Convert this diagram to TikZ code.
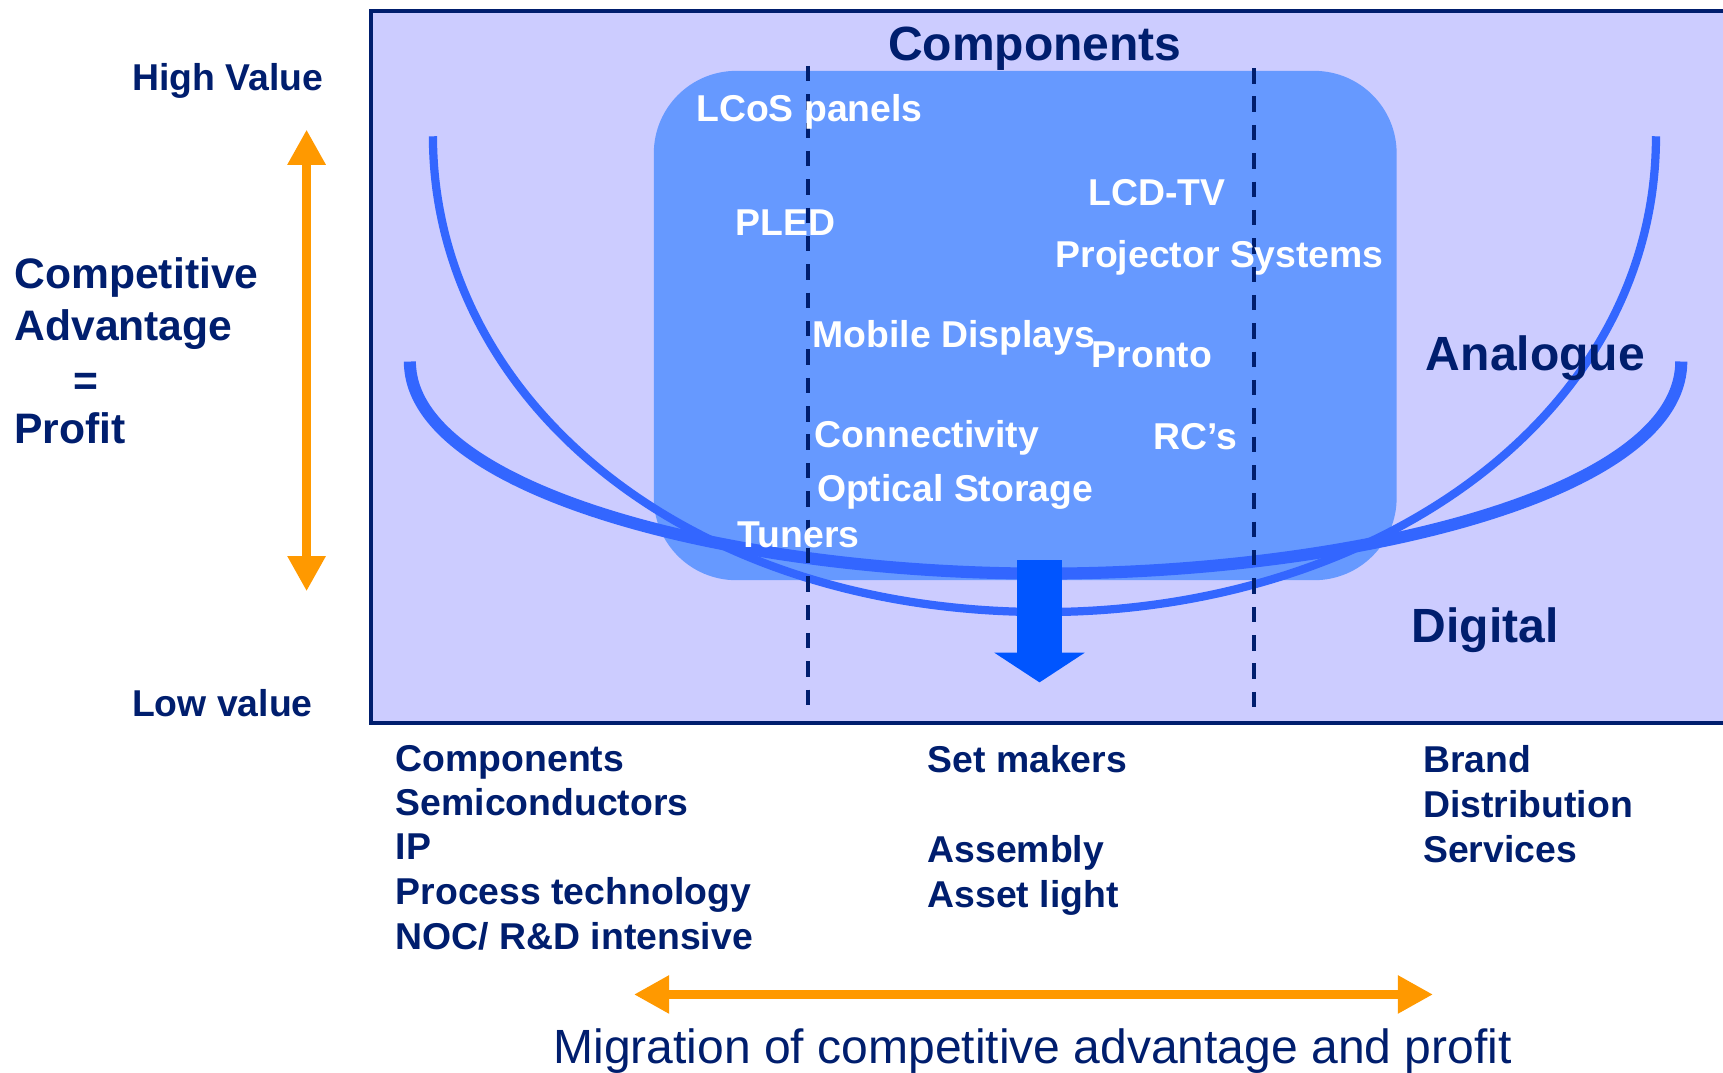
\documentclass[tikz,border=0pt]{standalone}
\usepackage{fontspec}
\setmainfont{Liberation Sans}
\usetikzlibrary{arrows.meta}

\definecolor{navy}{RGB}{0,30,110}
\definecolor{panelfill}{RGB}{204,204,255}
\definecolor{corefill}{RGB}{102,153,255}
\definecolor{curveblue}{RGB}{51,102,255}
\definecolor{dropblue}{RGB}{0,85,255}
\definecolor{migorange}{RGB}{255,153,0}

\tikzset{
  lbl/.style={anchor=base west, inner sep=0pt, text=navy,
              font=\fontsize{34}{40}\selectfont\bfseries},
  biglbl/.style={lbl, font=\fontsize{43.7}{50}\selectfont\bfseries},
  sidelbl/.style={lbl, font=\fontsize{38.8}{46}\selectfont\bfseries},
  wlbl/.style={lbl, text=white},
  divider/.style={navy, line width=3.6pt, dash pattern=on 14pt off 11.8pt},
  analoguecurve/.style={curveblue, line width=7.5pt},
  digitalcurve/.style={curveblue, line width=11pt},
  orangearrow/.style={migorange, line width=7.5pt,
     {Triangle[length=32pt,width=33pt]}-{Triangle[length=32pt,width=33pt]}},
  droparrow/.style={dropblue, line width=41pt,
     -{Triangle[length=27pt,width=81pt]}},
}

\begin{document}
\begin{tikzpicture}[x=1pt,y=-1pt]
\useasboundingbox (0,0) rectangle (1568,976);
\fill[white] (0,0) rectangle (1568,976);

% value chart panel
\fill[panelfill] (337.5,10) rectangle (1570,658);
\draw[navy, line width=3.5pt] (1570,10) -- (337.5,10) -- (337.5,658) -- (1570,658);

% core technology block
\node[fill=corefill, rounded corners=75pt, minimum width=676pt,
      minimum height=463.5pt, inner sep=0pt] (core) at (933,296.25) {};

% smile curves
\coordinate (aL) at (394,124);
\coordinate (aB) at (950,557);
\coordinate (aR) at (1507,124);
\draw[analoguecurve] (aL) .. controls (394,360) and (620,557) .. (aB)
                          .. controls (1250,557) and (1507,380) .. (aR);
\coordinate (dL) at (373,329);
\coordinate (dB) at (950,522);
\coordinate (dR) at (1530,329);
\draw[digitalcurve] (dL) .. controls (373,445) and (660,522) .. (dB)
                         .. controls (1230,522) and (1530,450) .. (dR);

% column dividers
\coordinate (d1t) at (735,60);  \coordinate (d1b) at (735,652);
\coordinate (d2t) at (1141,62); \coordinate (d2b) at (1141,652);
\draw[divider] (d1t) -- (d1b);
\draw[divider] (d2t) -- (d2b);

% downward shift arrow
\coordinate (dropTop) at (946,510);
\coordinate (dropTip) at (946,621);
\draw[droparrow] (dropTop) -- (dropTip);

% value axis
\coordinate (vTop) at (279,118);
\coordinate (vBot) at (279,538);
\draw[orangearrow] (vTop) -- (vBot);

% migration axis
\coordinate (hLeft) at (577,905);
\coordinate (hRight) at (1304,905);
\draw[orangearrow] (hLeft) -- (hRight);

% axis labels
\node[lbl] (high) at (120,82) {High Value};
\node[lbl] (low) at (120,652) {Low value};
\node[sidelbl] (ca1) at (13,263) {Competitive};
\node[sidelbl] (ca2) at (13,310) {Advantage};
\node[sidelbl] (ca3) at (67,360) {=};
\node[sidelbl] (ca4) at (13,404) {Profit};

% panel headings
\node[biglbl] (title) at (808,55) {Components};
\node[biglbl] (analogue) at (1297.5,337) {Analogue};
\node[biglbl] (digital) at (1284.5,585) {Digital};

% products
\node[wlbl] (lcos) at (633.5,111) {LCoS panels};
\node[wlbl] (pled) at (669.5,214) {PLED};
\node[wlbl] (lcdtv) at (990.5,187) {LCD-TV};
\node[wlbl] (proj) at (960.5,243) {Projector Systems};
\node[wlbl] (mobile) at (739.2,316) {Mobile Displays};
\node[wlbl] (pronto) at (993.4,334) {Pronto};
\node[wlbl] (conn) at (741.3,407) {Connectivity};
\node[wlbl] (rcs) at (1049.5,409) {RC’s};
\node[wlbl] (optical) at (743.3,456) {Optical Storage};
\node[wlbl] (tuners) at (671,498) {Tuners};

% chain segments
\node[lbl] (c1a) at (360,702) {Components};
\node[lbl] (c1b) at (360,742) {Semiconductors};
\node[lbl] (c1c) at (360,782) {IP};
\node[lbl] (c1d) at (360,823) {Process technology};
\node[lbl] (c1e) at (360,864) {NOC/ R\&D intensive};
\node[lbl] (c2a) at (844,703) {Set makers};
\node[lbl] (c2b) at (844,785) {Assembly};
\node[lbl] (c2c) at (844,826) {Asset light};
\node[lbl] (c3a) at (1295,703) {Brand};
\node[lbl] (c3b) at (1295,744) {Distribution};
\node[lbl] (c3c) at (1295,785) {Services};

\node[anchor=base west, inner sep=0pt, text=navy,
      font=\fontsize{43.7}{50}\selectfont] (migration) at (503.5,968)
      {Migration of competitive advantage and profit};
\end{tikzpicture}
\end{document}
